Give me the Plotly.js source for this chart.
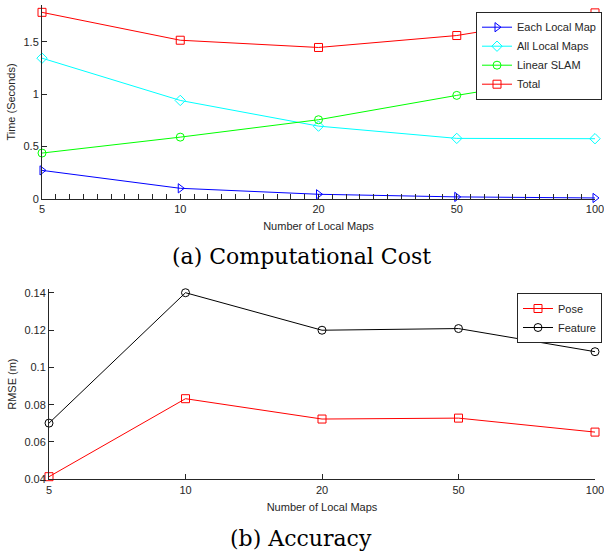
<!DOCTYPE html>
<html>
<head>
<meta charset="utf-8">
<script src="https://cdn.plot.ly/plotly-3.0.1.min.js"></script>
<style>html,body{margin:0;padding:0;background:#fff;}#chart{width:604px;height:554px;}</style>
</head>
<body>
<div id="chart"></div>
<script>
// Categories (number of local maps), plotted at evenly spaced positions
const categories = ['5', '10', '20', '50', '100'];

// (a) Computational cost, seconds
const eachLocalMap = [0.273, 0.102, 0.045, 0.020, 0.010];
const allLocalMaps = [1.343, 0.940, 0.695, 0.578, 0.575];
const linearSLAM   = [0.438, 0.590, 0.756, 0.988, 1.204];
const totalCost    = [1.780, 1.514, 1.445, 1.559, 1.775];

// (b) Accuracy, RMSE (m)
const poseRMSE    = [0.0414, 0.0832, 0.0723, 0.0728, 0.0653];
const featureRMSE = [0.0701, 0.1400, 0.1199, 0.1208, 0.1084];

// Tick labels
const yTicksA = [0, 0.5, 1, 1.5];
const yTickTextA = ['0', '0.5', '1', '1.5'];
const yTicksB = [0.04, 0.06, 0.08, 0.1, 0.12, 0.14];
const yTickTextB = ['0.04', '0.06', '0.08', '0.1', '0.12', '0.14'];

const xPos = categories.map((_, i) => i + 1);
// minor tick positions: tenths between category positions
const minorX = [];
for (let i = 1; i < categories.length; i++) {
  for (let k = 1; k < 10; k++) minorX.push(i + k / 10);
}

const axCol = '#262626';
const tickFont = {family: 'Liberation Sans, Arial, sans-serif', size: 11, color: axCol};

function tr(y, name, color, symbol, xa, ya, legend) {
  return {
    x: xPos, y: y, name: name, type: 'scatter', mode: 'lines+markers',
    xaxis: xa, yaxis: ya, legend: legend, cliponaxis: false,
    line: {color: color, width: 1},
    marker: {symbol: symbol, size: 8, color: color, line: {color: color, width: 1}}
  };
}

const data = [
  tr(eachLocalMap, 'Each Local Map', '#0000ff', 'triangle-right-open', 'x', 'y', 'legend'),
  tr(allLocalMaps, 'All Local Maps', '#00ffff', 'diamond-open', 'x', 'y', 'legend'),
  tr(linearSLAM, 'Linear SLAM', '#00ff00', 'circle-open', 'x', 'y', 'legend'),
  tr(totalCost, 'Total', '#ff0000', 'square-open', 'x', 'y', 'legend'),
  tr(poseRMSE, 'Pose', '#ff0000', 'square-open', 'x2', 'y2', 'legend2'),
  tr(featureRMSE, 'Feature', '#000000', 'circle-open', 'x2', 'y2', 'legend2')
];

const baseX = {
  range: [1, 5], tickmode: 'array', tickvals: xPos, ticktext: categories,
  showline: true, linecolor: axCol, linewidth: 1, ticks: 'inside', ticklen: 5,
  tickcolor: axCol, showgrid: false, zeroline: false, tickfont: tickFont,
  ticklabeloverflow: 'allow', layer: 'above traces'
};
const baseY = {
  showline: true, linecolor: axCol, linewidth: 1, ticks: 'inside', ticklen: 5,
  tickcolor: axCol, showgrid: false, zeroline: false, tickfont: tickFont, tickmode: 'array',
  layer: 'above traces'
};
const titleFont = {family: 'Liberation Sans, Arial, sans-serif', size: 11, color: axCol};
const capFont = {family: 'DejaVu Serif, serif', size: 22, color: '#000'};

const layout = {
  width: 604, height: 554,
  margin: {l: 0, r: 0, t: 0, b: 0},
  paper_bgcolor: '#fff', plot_bgcolor: '#fff',
  showlegend: true,
  xaxis: Object.assign({}, baseX, {
    domain: [42/604, 595/604], anchor: 'y',
    minor: {tickmode: 'array', tickvals: minorX, ticks: 'inside', ticklen: 5, tickcolor: axCol, showgrid: false},
    title: {text: 'Number of Local Maps', font: titleFont, standoff: 8}
  }),
  yaxis: Object.assign({}, baseY, {
    domain: [1 - 199/554, 1 - 5/554], anchor: 'x', range: [0, 1.85],
    tickvals: yTicksA, ticktext: yTickTextA,
    title: {text: 'Time (Seconds)', font: titleFont, standoff: 5}
  }),
  xaxis2: Object.assign({}, baseX, {
    domain: [49/604, 595/604], anchor: 'y2',
    title: {text: 'Number of Local Maps', font: titleFont, standoff: 8}
  }),
  yaxis2: Object.assign({}, baseY, {
    domain: [1 - 479.3/554, 1 - 289/554], anchor: 'x2', range: [0.04, 0.142],
    tickvals: yTicksB, ticktext: yTickTextB,
    title: {text: 'RMSE (m)', font: titleFont, standoff: 5}
  }),
  legend: {
    x: 476/604, y: 1 - 11.7/554, xanchor: 'left', yanchor: 'top',
    bgcolor: '#fff', bordercolor: axCol, borderwidth: 1,
    font: tickFont, tracegroupgap: 0
  },
  legend2: {
    x: 517/604, y: 1 - 293/554, xanchor: 'left', yanchor: 'top',
    bgcolor: '#fff', bordercolor: axCol, borderwidth: 1,
    font: tickFont, tracegroupgap: 0
  },
  annotations: [
    {text: '(a) Computational Cost', xref: 'paper', yref: 'paper', x: 301/604, y: 1 - 257/554,
     xanchor: 'center', yanchor: 'middle', showarrow: false, font: capFont},
    {text: '(b) Accuracy', xref: 'paper', yref: 'paper', x: 301/604, y: 1 - 538/554,
     xanchor: 'center', yanchor: 'middle', showarrow: false, font: capFont}
  ]
};

Plotly.newPlot('chart', data, layout, {displayModeBar: false, staticPlot: true});
</script>
</body>
</html>
